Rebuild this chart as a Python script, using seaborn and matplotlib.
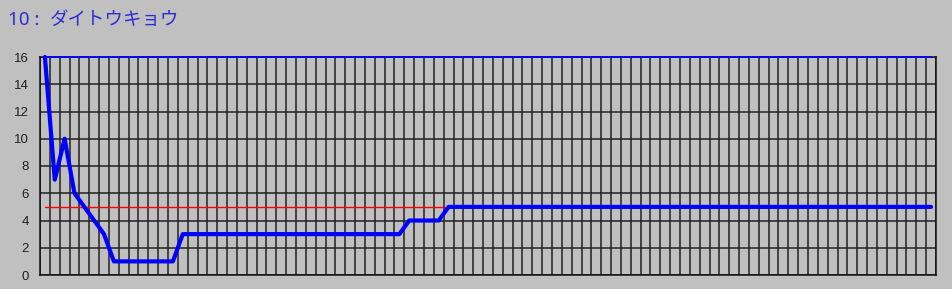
import numpy as np
import pandas as pd
import matplotlib
matplotlib.use("Agg")
import matplotlib.pyplot as plt
import seaborn as sns

# ---- data ----
title_number = "10 :"
title_name = "ダイトウキョウ"
main_values = ([16, 7, 10, 6, 5, 4, 3] + [1] * 7 + [3] * 23 + [4] * 4 + [5] * 50)
n_points = len(main_values)
ref_value = 5      # red reference series
max_value = 16     # thin blue series at the top
y_ticks = [0, 2, 4, 6, 8, 10, 12, 14, 16]

x = np.arange(n_points)
df = pd.DataFrame({
    "x": np.concatenate([x, x, x]),
    "value": np.concatenate([main_values, [ref_value] * n_points, [max_value] * n_points]),
    "series": ["main"] * n_points + ["ref"] * n_points + ["max"] * n_points,
})

sns.set_style("white")
plt.rcParams["font.family"] = ["Liberation Sans", "DejaVu Sans"]

bg = "#C0C0C0"
fig = plt.figure(figsize=(9.52, 2.89), dpi=100, facecolor=bg)
ax = fig.add_axes([40 / 952, 1 - 275 / 289, (936 - 40) / 952, (275 - 57) / 289])
ax.set_facecolor(bg)

sns.lineplot(data=df[df.series == "ref"], x="x", y="value", color="#FF0000",
             linewidth=1.0, ax=ax, zorder=3)
sns.lineplot(data=df[df.series == "max"], x="x", y="value", color="#0000FF",
             linewidth=1.3, ax=ax, zorder=4, clip_on=False)
sns.lineplot(data=df[df.series == "main"], x="x", y="value", color="#0000FF",
             linewidth=3.0, ax=ax, zorder=5, clip_on=False)

ax.set_xlim(-0.5, n_points - 0.5)
ax.set_ylim(0, 16)
ax.set_xticks(np.arange(-0.5, n_points, 1.0))
ax.set_xticklabels([])
ax.set_yticks(y_ticks)
ax.set_yticklabels([str(v) for v in y_ticks], fontsize=9.5, color="#202020")
ax.tick_params(axis="x", length=0)
ax.tick_params(axis="y", length=4, width=1.1, color="#101010", pad=4)
ax.grid(True, color="#222222", linewidth=1.1, zorder=1)
ax.set_axisbelow(True)
for s in ax.spines.values():
    s.set_color("#101010")
    s.set_linewidth(1.1)
ax.set_xlabel("")
ax.set_ylabel("")
leg = ax.get_legend()
if leg:
    leg.remove()

fig.text(8 / 952, 1 - 25 / 289, title_number, fontsize=13.5, color="#2C2CD8",
         family=["Noto Sans", "DejaVu Sans"], ha="left", va="baseline")
fig.text(50 / 952, 1 - 25 / 289, title_name, fontsize=13.3, color="#2C2CD8",
         family=["Noto Sans CJK JP", "DejaVu Sans"], ha="left", va="baseline")

fig.savefig("out.png", dpi=100, facecolor=bg)
